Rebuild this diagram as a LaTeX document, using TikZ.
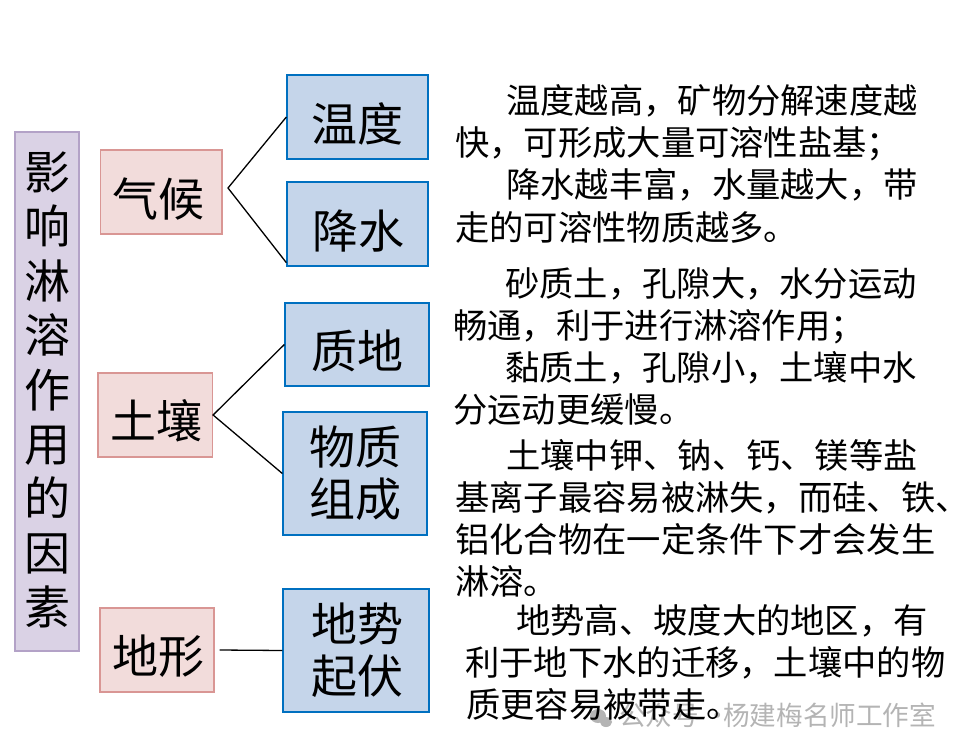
\documentclass[tikz,border=0pt]{standalone}
\usepackage{fontspec}
\setmainfont{Noto Sans CJK SC}
\newfontfamily\cjk{Noto Sans CJK SC}
\definecolor{purplefill}{HTML}{DAD2E5}
\definecolor{purpleborder}{HTML}{B3A2C7}
\definecolor{pinkfill}{HTML}{F2DCDB}
\definecolor{pinkborder}{HTML}{D99694}
\definecolor{bluefill}{HTML}{C5D5EA}
\definecolor{blueborder}{HTML}{0070C0}
\definecolor{wmgray}{HTML}{B4B4B4}
\begin{document}
\begin{tikzpicture}[x=1pt,y=-1pt,
  factorbox/.style={draw=purpleborder, fill=purplefill, line width=1.8pt, inner sep=0pt},
  catbox/.style={draw=pinkborder, fill=pinkfill, line width=1.2pt, inner sep=0pt},
  subbox/.style={draw=blueborder, fill=bluefill, line width=1.3pt, inner sep=0pt},
  boxtxt/.style={inner sep=0pt, align=center, font=\cjk\fontsize{46}{52}\selectfont},
  vtxt/.style={inner sep=0pt, align=center, font=\cjk\fontsize{46}{54.4}\selectfont},
  desc/.style={inner sep=0pt, anchor=base west, font=\cjk\fontsize{34.3}{42}\selectfont},
  wm/.style={inner sep=0pt, anchor=base west, text=wmgray, font=\cjk\fontsize{26.6}{30}\selectfont},
  link/.style={line width=1.3pt, black}]
\useasboundingbox (0,0) rectangle (970,755);
\fill[white] (0,0) rectangle (970,755);

% left factor box
\node[factorbox, minimum width=64pt, minimum height=519pt] (factor) at (47,391.5) {};
\node[vtxt] (factortxt) at (47,390) {影\\响\\淋\\溶\\作\\用\\的\\因\\素};

% category boxes
\node[catbox, minimum width=121.5pt, minimum height=84pt] (qihou) at (161.25,192) {};
\node[catbox, minimum width=114.5pt, minimum height=84pt] (turang) at (155.25,415) {};
\node[catbox, minimum width=114pt, minimum height=84pt] (dixing) at (157,650) {};
\node[boxtxt] (qihoutxt) at ([xshift=-3pt,yshift=-7.5pt]qihou.center) {气候};
\node[boxtxt] (turangtxt) at ([xshift=1pt,yshift=-6pt]turang.center) {土壤};
\node[boxtxt] (dixingtxt) at ([xshift=1pt,yshift=-6.5pt]dixing.center) {地形};

% sub boxes
\node[subbox, minimum width=141pt, minimum height=84pt] (wendu) at (357.5,117) {};
\node[subbox, minimum width=141pt, minimum height=84pt] (jiangshui) at (357.5,224) {};
\node[subbox, minimum width=144pt, minimum height=83pt] (zhidi) at (357,344.5) {};
\node[subbox, minimum width=144pt, minimum height=123pt] (wuzhi) at (355,473.5) {};
\node[subbox, minimum width=146pt, minimum height=123pt] (dishi) at (356,650.5) {};
\node[boxtxt] (wendutxt) at ([yshift=-6.5pt]wendu.center) {温度};
\node[boxtxt] (jiangshuitxt) at ([xshift=1pt,yshift=-7.5pt]jiangshui.center) {降水};
\node[boxtxt] (zhiditxt) at ([yshift=-6.5pt]zhidi.center) {质地};
\node[boxtxt] (wuzhitxt) at (wuzhi.center) {物质\\组成};
\node[boxtxt] (dishitxt) at ([xshift=1pt]dishi.center) {地势\\起伏};

% connectors
\coordinate (qhj) at (228,188);
\draw[link] (wendu.west) -- (qhj) -- ([yshift=4pt]jiangshui.south west);
\draw[link] (zhidi.west) -- (turang.east) -- (wuzhi.west);
\draw[link] ([xshift=5pt]dixing.east) -- (dishi.west);

% watermark
\fill[wmgray] (598,716) ellipse (8pt and 7pt);
\fill[wmgray] (606,722) ellipse (6pt and 5pt);
\node[wm] (wm1) at (619,725) {公众号};
\node[wm] (wm2) at (704,725) {·};
\node[wm] (wm3) at (723,725) {杨建梅名师工作室};

% descriptions
\node[desc] (d1a) at (506,113) {温度越高，矿物分解速度越};
\node[desc] (d1b) at (455,155.5) {快，可形成大量可溶性盐基；};
\node[desc] (d1c) at (506,197.5) {降水越丰富，水量越大，带};
\node[desc] (d1d) at (455,240) {走的可溶性物质越多。};

\node[desc] (d2a) at (505,296) {砂质土，孔隙大，水分运动};
\node[desc] (d2b) at (453,338) {畅通，利于进行淋溶作用；};
\node[desc] (d2c) at (505,380) {黏质土，孔隙小，土壤中水};
\node[desc] (d2d) at (453,422) {分运动更缓慢。};

\node[desc] (d3a) at (506,468) {土壤中钾、钠、钙、镁等盐};
\node[desc] (d3b) at (455,510) {基离子最容易被淋失，而硅、铁、};
\node[desc] (d3c) at (455,552) {铝化合物在一定条件下才会发生};
\node[desc] (d3d) at (455,594) {淋溶。};

\node[desc] (d4a) at (516,633) {地势高、坡度大的地区，有};
\node[desc] (d4b) at (465,675) {利于地下水的迁移，土壤中的物};
\node[desc] (d4c) at (466,717) {质更容易被带走。};
\end{tikzpicture}
\end{document}
